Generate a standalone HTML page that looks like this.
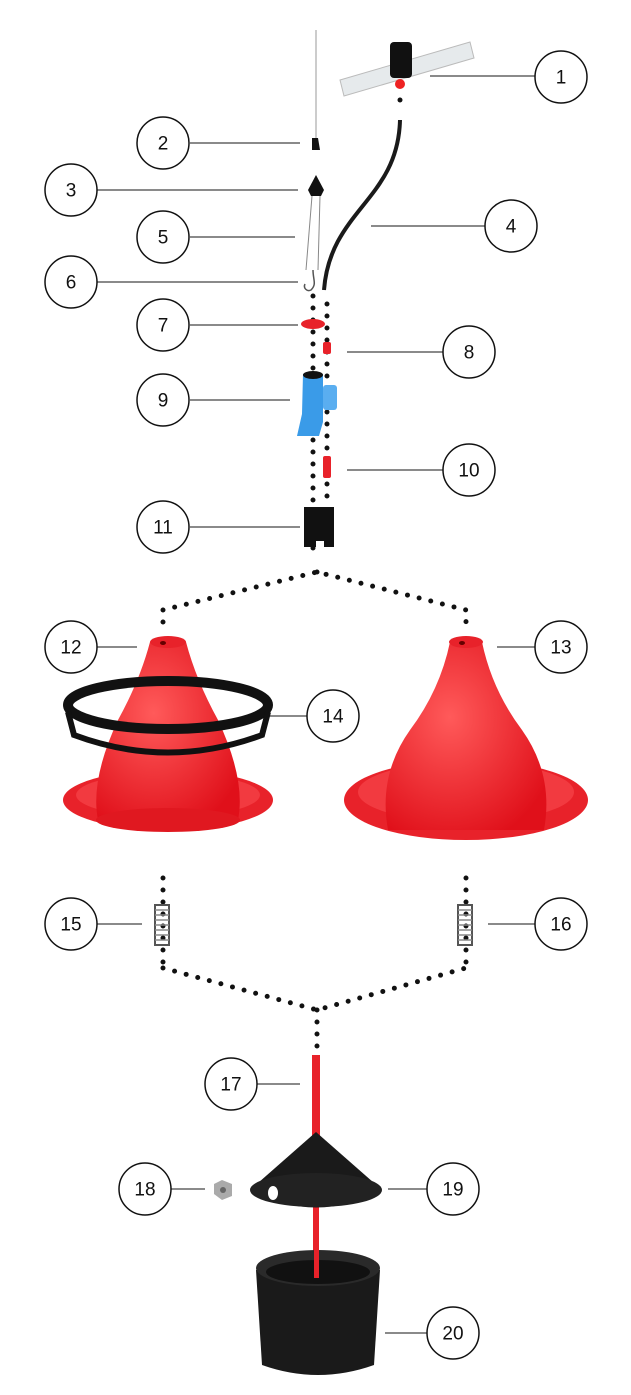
<!DOCTYPE html>
<html><head><meta charset="utf-8"><style>
html,body{margin:0;padding:0;background:#fff}
svg{display:block}
text{font-family:"Liberation Sans",sans-serif;font-size:19px;fill:#111;text-anchor:middle;dominant-baseline:central}
</style></head><body>
<svg width="631" height="1395" viewBox="0 0 631 1395" xmlns="http://www.w3.org/2000/svg">
<defs>
<radialGradient id="red" cx="40%" cy="40%" r="70%"><stop offset="0" stop-color="#ff5a5a"/><stop offset="1" stop-color="#e0101a"/></radialGradient>
</defs>
<!-- leader lines -->
<g stroke="#444" stroke-width="1.3">
<line x1="430" y1="76" x2="535" y2="76"/>
<line x1="190" y1="143" x2="300" y2="143"/>
<line x1="97" y1="190" x2="298" y2="190"/>
<line x1="371" y1="226" x2="485" y2="226"/>
<line x1="190" y1="237" x2="295" y2="237"/>
<line x1="97" y1="282" x2="298" y2="282"/>
<line x1="190" y1="325" x2="298" y2="325"/>
<line x1="347" y1="352" x2="443" y2="352"/>
<line x1="190" y1="400" x2="290" y2="400"/>
<line x1="347" y1="470" x2="443" y2="470"/>
<line x1="190" y1="527" x2="300" y2="527"/>
<line x1="97" y1="647" x2="137" y2="647"/>
<line x1="497" y1="647" x2="535" y2="647"/>
<line x1="268" y1="716" x2="307" y2="716"/>
<line x1="97" y1="924" x2="142" y2="924"/>
<line x1="488" y1="924" x2="535" y2="924"/>
<line x1="257" y1="1084" x2="300" y2="1084"/>
<line x1="171" y1="1189" x2="205" y2="1189"/>
<line x1="388" y1="1189" x2="427" y2="1189"/>
<line x1="385" y1="1333" x2="427" y2="1333"/>
</g>
<!-- dotted connectors -->
<g stroke="#111" stroke-width="5" stroke-linecap="round" fill="none" stroke-dasharray="0 12">
<line x1="313" y1="296" x2="313" y2="560"/>
<line x1="327" y1="304" x2="327" y2="500"/>
<line x1="317" y1="572" x2="317" y2="572"/>
<polyline points="163,622 163,610 317,572 466,610 466,622"/>
<line x1="163" y1="878" x2="163" y2="968"/>
<line x1="466" y1="878" x2="466" y2="968"/>
<polyline points="163,968 317,1010 466,968"/>
<line x1="317" y1="1010" x2="317" y2="1050"/>
<line x1="400" y1="100" x2="400" y2="100"/>
</g>
<!-- top pipe -->
<g>
<path d="M340 80 L470 42 L474 58 L344 96 Z" fill="#e6eaec" stroke="#bbb"/>
<rect x="390" y="42" width="22" height="36" rx="4" fill="#111"/>
<circle cx="400" cy="84" r="5" fill="#e22"/>
</g>
<!-- string -->
<line x1="316" y1="30" x2="316" y2="140" stroke="#999" stroke-width="1"/>
<path d="M312 138 l6 0 l2 12 l-8 0z" fill="#111"/>
<path d="M316 175 l8 15 l-3 6 l-10 0 l-3 -6z" fill="#111"/>
<path d="M312 196 L306 270 M320 196 L318 270" stroke="#888" stroke-width="1"/>
<path d="M313 270 c0 10 4 14 -2 20 c-4 2 -8 -2 -6 -6" stroke="#555" stroke-width="1.5" fill="none"/>
<!-- tube -->
<path d="M400 120 C398 200 330 210 324 290" stroke="#1a1a1a" stroke-width="4" fill="none"/>
<!-- 7 -->
<ellipse cx="313" cy="324" rx="12" ry="5" fill="#e8222a"/>
<!-- 8 -->
<rect x="323" y="342" width="8" height="12" rx="2" fill="#e8222a"/>
<!-- 9 -->
<path d="M303 374 h20 v48 l-4 14 h-22 l5 -22z" fill="#3a9be8"/>
<ellipse cx="313" cy="375" rx="10" ry="4" fill="#111"/>
<rect x="323" y="385" width="14" height="25" rx="3" fill="#5aaef0"/>
<!-- 10 -->
<rect x="323" y="456" width="8" height="22" rx="2" fill="#e8222a"/>
<!-- 11 -->
<path d="M304 507 h30 v40 h-10 v-6 h-8 v6 h-12z" fill="#111"/>
<!-- left feeder -->
<ellipse cx="168" cy="800" rx="105" ry="30" fill="#e8222a"/>
<ellipse cx="168" cy="795" rx="92" ry="22" fill="#f23a40"/>
<path d="M150 642 Q140 680 118 720 Q90 780 98 820 L238 820 Q246 780 218 720 Q196 680 186 642 Z" fill="url(#red)"/>
<ellipse cx="168" cy="642" rx="18" ry="6" fill="#e8222a"/>
<ellipse cx="163" cy="643" rx="3" ry="2" fill="#600"/>
<ellipse cx="168" cy="820" rx="72" ry="12" fill="#e01820"/>
<ellipse cx="168" cy="705" rx="100" ry="24" fill="none" stroke="#111" stroke-width="10"/>
<path d="M68 712 L74 735 Q168 770 262 735 L268 712" fill="none" stroke="#111" stroke-width="6"/>
<!-- right feeder -->
<ellipse cx="466" cy="800" rx="122" ry="40" fill="#e8222a"/>
<ellipse cx="466" cy="792" rx="108" ry="30" fill="#f23a40"/>
<path d="M450 642 Q440 690 410 730 Q378 775 388 830 L544 830 Q554 775 522 730 Q492 690 482 642 Z" fill="url(#red)"/>
<ellipse cx="466" cy="642" rx="17" ry="6" fill="#e8222a"/>
<ellipse cx="462" cy="643" rx="3" ry="2" fill="#600"/>
<!-- springs -->
<g stroke="#555" stroke-width="2">
<rect x="155" y="905" width="14" height="40" fill="none"/>
<rect x="458" y="905" width="14" height="40" fill="none"/>
</g>
<g stroke="#888" stroke-width="1.5">
<path d="M155 910h14M155 915h14M155 920h14M155 925h14M155 930h14M155 935h14M155 940h14"/>
<path d="M458 910h14M458 915h14M458 920h14M458 925h14M458 930h14M458 935h14M458 940h14"/>
</g>
<!-- 17 rod -->
<rect x="312" y="1055" width="8" height="90" fill="#e8222a"/>
<rect x="313" y="1205" width="6" height="70" fill="#e8222a"/>
<!-- 19 cone -->
<path d="M316 1132 L250 1190 Q316 1225 382 1190 Z" fill="#1a1a1a"/>
<ellipse cx="316" cy="1190" rx="66" ry="17" fill="#222"/>
<ellipse cx="273" cy="1193" rx="5" ry="7" fill="#fff"/>
<!-- 18 -->
<path d="M222 1180 l10 4 l0 12 l-10 4 l-8 -6 l0 -10z" fill="#aaa"/>
<circle cx="223" cy="1190" r="3" fill="#666"/>
<!-- 20 bucket -->
<path d="M256 1270 L262 1365 Q318 1385 374 1365 L380 1270 Z" fill="#1a1a1a"/>
<ellipse cx="318" cy="1268" rx="62" ry="18" fill="#2a2a2a"/>
<ellipse cx="318" cy="1272" rx="52" ry="12" fill="#111"/>
<rect x="314" y="1250" width="5" height="28" fill="#e8222a"/>
<!-- circles -->
<g fill="#fff" stroke="#111" stroke-width="1.5">
<circle cx="561" cy="77" r="26"/><circle cx="163" cy="143" r="26"/><circle cx="71" cy="190" r="26"/>
<circle cx="511" cy="226" r="26"/><circle cx="163" cy="237" r="26"/><circle cx="71" cy="282" r="26"/>
<circle cx="163" cy="325" r="26"/><circle cx="469" cy="352" r="26"/><circle cx="163" cy="400" r="26"/>
<circle cx="469" cy="470" r="26"/><circle cx="163" cy="527" r="26"/><circle cx="71" cy="647" r="26"/>
<circle cx="561" cy="647" r="26"/><circle cx="333" cy="716" r="26"/><circle cx="71" cy="924" r="26"/>
<circle cx="561" cy="924" r="26"/><circle cx="231" cy="1084" r="26"/><circle cx="145" cy="1189" r="26"/>
<circle cx="453" cy="1189" r="26"/><circle cx="453" cy="1333" r="26"/>
</g>
<text x="561" y="78">1</text><text x="163" y="144">2</text><text x="71" y="191">3</text>
<text x="511" y="227">4</text><text x="163" y="238">5</text><text x="71" y="283">6</text>
<text x="163" y="326">7</text><text x="469" y="353">8</text><text x="163" y="401">9</text>
<text x="469" y="471">10</text><text x="163" y="528">11</text><text x="71" y="648">12</text>
<text x="561" y="648">13</text><text x="333" y="717">14</text><text x="71" y="925">15</text>
<text x="561" y="925">16</text><text x="231" y="1085">17</text><text x="145" y="1190">18</text>
<text x="453" y="1190">19</text><text x="453" y="1334">20</text>
</svg>
</body></html>
